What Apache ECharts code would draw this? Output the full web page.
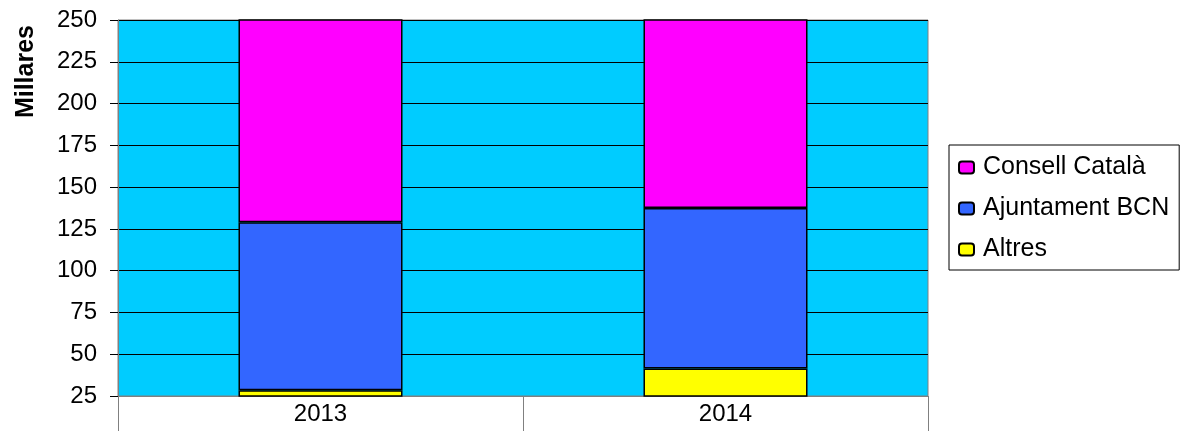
<!DOCTYPE html>
<html><head><meta charset="utf-8">
<script src="https://cdn.jsdelivr.net/npm/echarts@6/dist/echarts.min.js"></script>
<style>html,body{margin:0;padding:0;background:#fff}#c{width:1183px;height:431px}</style>
</head><body><div id="c"></div>
<script>
const categories = ['2013', '2014'];
const altres = [28.5, 41.5];
const ajuntament = [100.5, 96];
const consell = [135, 130];
const yLabel = 'Millares';
const seriesNames = ['Altres', 'Ajuntament BCN', 'Consell Català'];
const font = 'Arial, "Liberation Sans", sans-serif';

const chart = echarts.init(document.getElementById('c'), null, {renderer: 'canvas'});
function s(name, data, color) {
  return {name, type: 'bar', stack: 't', data, barWidth: '40.5%',
    itemStyle: {color, borderColor: '#000', borderWidth: 1.5}, clip: true};
}
chart.setOption({
  animation: false,
  grid: {left: 118, right: 255, top: 20, bottom: 35, show: true, backgroundColor: '#00CCFF', borderColor: '#808080', borderWidth: 1},
  xAxis: {type: 'category', data: categories,
    axisLine: {lineStyle: {color: '#808080', width: 1}},
    axisTick: {show: true, length: 35, lineStyle: {color: '#808080'}},
    axisLabel: {color: '#000', fontSize: 24, fontFamily: font, margin: 6}},
  yAxis: {type: 'value', min: 25, max: 250, interval: 25,
    axisLine: {show: true, lineStyle: {color: '#808080'}},
    axisTick: {show: true, length: 8, lineStyle: {color: '#000'}},
    splitLine: {lineStyle: {color: '#000', width: 1}},
    axisLabel: {color: '#000', fontSize: 24, fontFamily: font, margin: 21}},
  legend: {orient: 'vertical', left: 949, top: 145, width: 234,
    data: [seriesNames[2], seriesNames[1], seriesNames[0]],
    backgroundColor: '#fff', borderColor: '#000', borderWidth: 1,
    padding: [10, 10, 8, 9], itemWidth: 15, itemHeight: 12, itemGap: 16,
    textStyle: {fontSize: 25, fontFamily: font, color: '#000', padding: [0, 0, 0, 4]}},
  graphic: [{type: 'text', left: 14, top: 25, rotation: Math.PI / 2,
    style: {text: yLabel, font: 'bold 25px ' + font, fill: '#000'}}],
  series: [s(seriesNames[0], altres, '#FFFF00'), s(seriesNames[1], ajuntament, '#3366FF'), s(seriesNames[2], consell, '#FF00FF')]
});
</script></body></html>
